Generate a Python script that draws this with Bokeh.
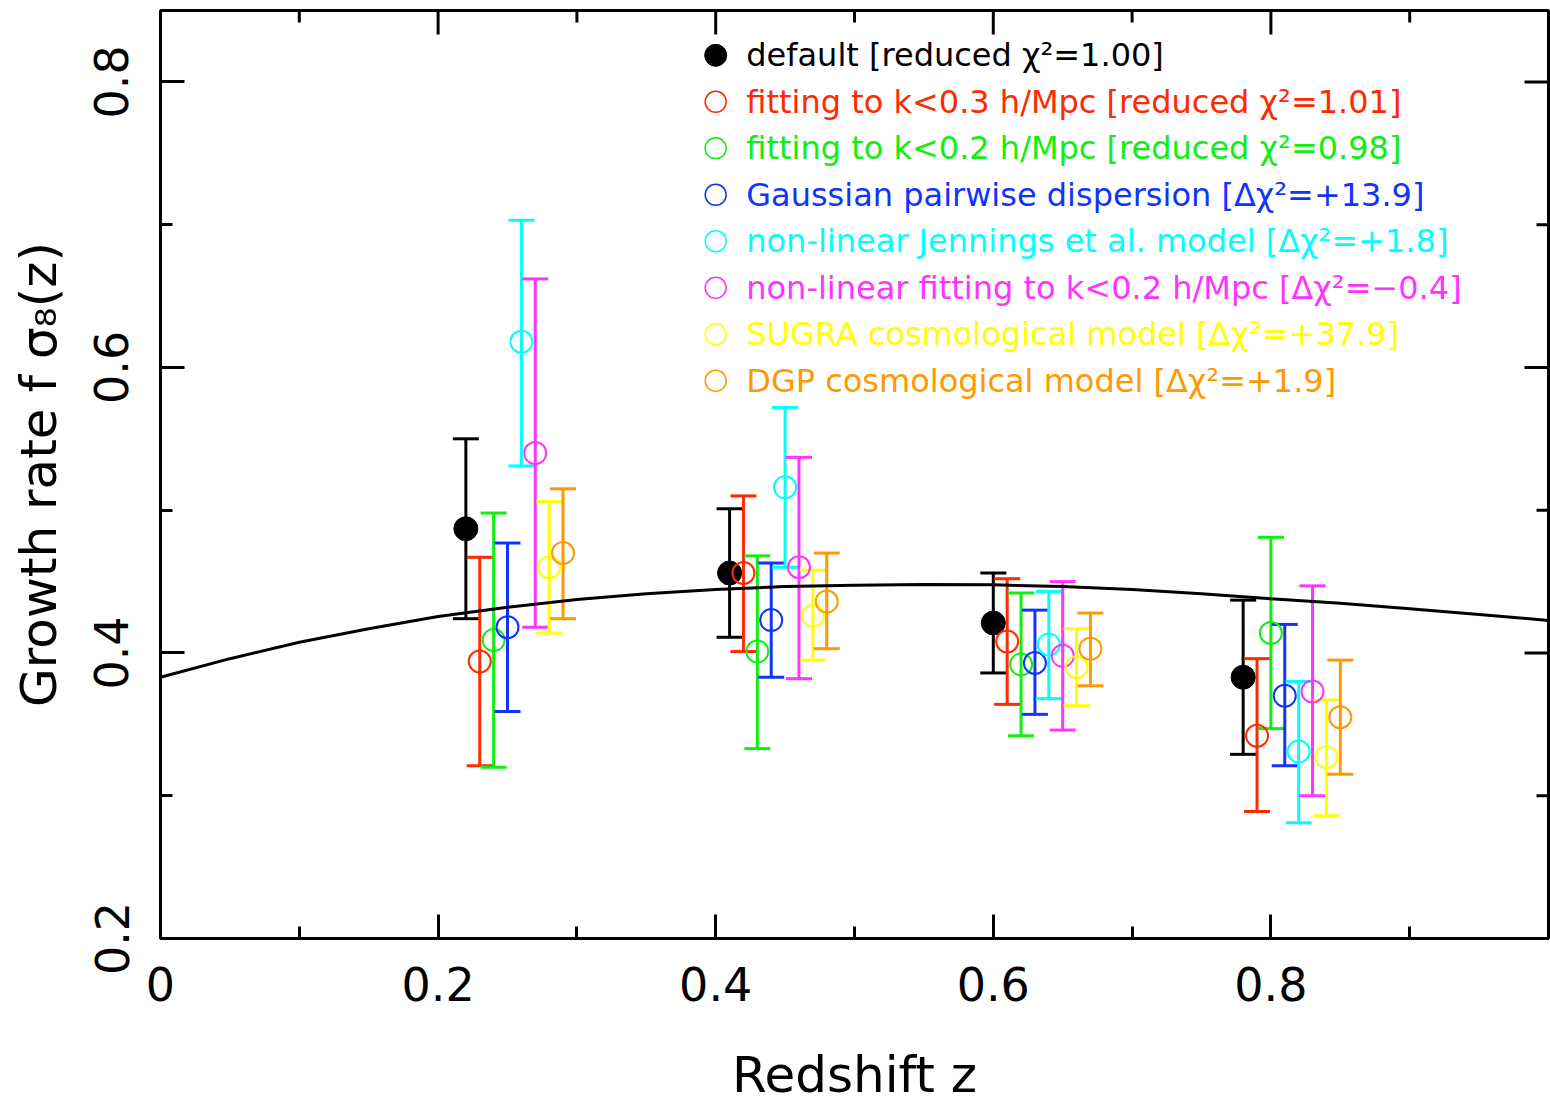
import math
from bokeh.plotting import figure
from bokeh.models import Range1d, FixedTicker, Whisker, TeeHead, ColumnDataSource
from bokeh.core.properties import value
from bokeh.embed import file_html
from bokeh.resources import INLINE

# ---------------- data ----------------
series_names = ["default", "k03", "k02", "gauss", "jennings", "nl_k02", "sugra", "dgp"]
series_colors = ["#000000", "#ff2a00", "#11ee11", "#1133ff", "#00ffff", "#ff33ff", "#ffff00", "#ff9900"]
series_labels = [
    "default [reduced χ²=1.00]",
    "fitting to k<0.3 h/Mpc [reduced χ²=1.01]",
    "fitting to k<0.2 h/Mpc [reduced χ²=0.98]",
    "Gaussian pairwise dispersion [Δχ²=+13.9]",
    "non-linear Jennings et al. model [Δχ²=+1.8]",
    "non-linear fitting to k<0.2 h/Mpc [Δχ²=−0.4]",
    "SUGRA cosmological model [Δχ²=+37.9]",
    "DGP cosmological model [Δχ²=+1.9]",
]

z_default = [0.22, 0.41, 0.60, 0.78]
fs8_default = [0.487, 0.456, 0.421, 0.383]
lo_default = [0.424, 0.411, 0.386, 0.329]
hi_default = [0.550, 0.501, 0.456, 0.437]

z_k03 = [0.23, 0.42, 0.61, 0.79]
fs8_k03 = [0.394, 0.456, 0.408, 0.342]
lo_k03 = [0.321, 0.401, 0.364, 0.289]
hi_k03 = [0.467, 0.510, 0.452, 0.396]

z_k02 = [0.24, 0.43, 0.62, 0.80]
fs8_k02 = [0.409, 0.401, 0.392, 0.414]
lo_k02 = [0.320, 0.333, 0.342, 0.347]
hi_k02 = [0.498, 0.468, 0.442, 0.481]

z_gauss = [0.25, 0.44, 0.63, 0.81]
fs8_gauss = [0.418, 0.423, 0.393, 0.370]
lo_gauss = [0.359, 0.383, 0.357, 0.321]
hi_gauss = [0.477, 0.463, 0.430, 0.420]

z_jennings = [0.26, 0.45, 0.64, 0.82]
fs8_jennings = [0.618, 0.516, 0.406, 0.331]
lo_jennings = [0.531, 0.460, 0.368, 0.281]
hi_jennings = [0.703, 0.572, 0.443, 0.380]

z_nl_k02 = [0.27, 0.46, 0.65, 0.83]
fs8_nl_k02 = [0.540, 0.460, 0.398, 0.373]
lo_nl_k02 = [0.418, 0.382, 0.346, 0.300]
hi_nl_k02 = [0.662, 0.537, 0.450, 0.447]

z_sugra = [0.28, 0.47, 0.66, 0.84]
fs8_sugra = [0.460, 0.426, 0.390, 0.327]
lo_sugra = [0.414, 0.395, 0.363, 0.286]
hi_sugra = [0.506, 0.458, 0.417, 0.367]

z_dgp = [0.29, 0.48, 0.67, 0.85]
fs8_dgp = [0.470, 0.436, 0.403, 0.355]
lo_dgp = [0.424, 0.403, 0.377, 0.315]
hi_dgp = [0.515, 0.470, 0.428, 0.395]

# LCDM model curve
z_model = [0.0, 0.05, 0.1, 0.15, 0.2, 0.25, 0.3, 0.35, 0.4, 0.45, 0.5,
           0.55, 0.6, 0.65, 0.7, 0.75, 0.8, 0.85, 0.9, 0.95, 1.0]
fs8_model = [0.383, 0.396, 0.4075, 0.417, 0.4255, 0.432, 0.4375, 0.4415, 0.4445, 0.4465, 0.4475,
             0.448, 0.4477, 0.4465, 0.4445, 0.4415, 0.438, 0.4348, 0.431, 0.427, 0.4228]

x_ticks = [0.0, 0.2, 0.4, 0.6, 0.8, 1.0]
x_minor = [0.1, 0.3, 0.5, 0.7, 0.9]
y_ticks = [0.2, 0.4, 0.6, 0.8]
y_minor = [0.3, 0.5, 0.7]
x_min, x_max = 0.0, 1.0
y_min, y_max = 0.2, 0.85

data = {
    "default": (z_default, fs8_default, lo_default, hi_default),
    "k03": (z_k03, fs8_k03, lo_k03, hi_k03),
    "k02": (z_k02, fs8_k02, lo_k02, hi_k02),
    "gauss": (z_gauss, fs8_gauss, lo_gauss, hi_gauss),
    "jennings": (z_jennings, fs8_jennings, lo_jennings, hi_jennings),
    "nl_k02": (z_nl_k02, fs8_nl_k02, lo_nl_k02, hi_nl_k02),
    "sugra": (z_sugra, fs8_sugra, lo_sugra, hi_sugra),
    "dgp": (z_dgp, fs8_dgp, lo_dgp, hi_dgp),
}

FONT = "DejaVu Sans"

p = figure(width=1550, height=1107, output_backend="svg", toolbar_location=None,
           x_range=Range1d(x_min, x_max), y_range=Range1d(y_min, y_max),
           min_border_left=160, min_border_right=2, min_border_top=10, min_border_bottom=169,
           x_axis_label="Redshift z", y_axis_label="Growth rate f σ₈(z)")
p.grid.visible = False
p.outline_line_color = "black"
p.outline_line_width = 3
p.background_fill_color = "white"
p.border_fill_color = "white"

def style_axis(ax, ticks, minor):
    ax.ticker = FixedTicker(ticks=ticks, minor_ticks=minor)
    ax.axis_line_width = 3
    ax.axis_line_color = "black"
    ax.major_tick_line_width = 3
    ax.minor_tick_line_width = 3
    ax.major_tick_in = 24
    ax.major_tick_out = 0
    ax.minor_tick_in = 12
    ax.minor_tick_out = 0
    ax.major_label_text_font = FONT
    ax.major_label_text_color = "black"
    ax.axis_label_text_font = FONT
    ax.axis_label_text_color = "black"
    ax.axis_label_text_font_style = "normal"

xa = p.xaxis[0]
style_axis(xa, x_ticks, x_minor)
xa.major_label_overrides = {0.0: "0", 0.2: "0.2", 0.4: "0.4", 0.6: "0.6", 0.8: "0.8", 1.0: ""}
xa.major_label_text_font_size = "46px"
xa.major_label_standoff = 28
xa.axis_label_text_font_size = "50px"
xa.axis_label_standoff = 42

ya = p.yaxis[0]
style_axis(ya, y_ticks, y_minor)
ya.major_label_overrides = {0.2: "0.2", 0.4: "0.4", 0.6: "0.6", 0.8: "0.8"}
ya.major_label_orientation = "vertical"
ya.major_label_text_font_size = "46px"
ya.major_label_standoff = 32
ya.axis_label_text_font_size = "50px"
ya.axis_label_standoff = 24

# mirrored ticks on top and right edges (inward)
p.ray(x=x_ticks, y=[y_max] * len(x_ticks), length=24, angle=-math.pi / 2,
      length_units="screen", line_color="black", line_width=3)
p.ray(x=x_minor, y=[y_max] * len(x_minor), length=12, angle=-math.pi / 2,
      length_units="screen", line_color="black", line_width=3)
p.ray(x=[x_max] * len(y_ticks), y=y_ticks, length=24, angle=math.pi,
      length_units="screen", line_color="black", line_width=3)
p.ray(x=[x_max] * len(y_minor), y=y_minor, length=12, angle=math.pi,
      length_units="screen", line_color="black", line_width=3)

# model curve
p.line(z_model, fs8_model, line_color="black", line_width=3)

# error bars and points
for name, color in zip(series_names, series_colors):
    z, y, lo, hi = data[name]
    src = ColumnDataSource(dict(z=z, y=y, lo=lo, hi=hi))
    w = Whisker(base="z", lower="lo", upper="hi", source=src, line_color=color, line_width=3,
                upper_head=TeeHead(size=26, line_color=color, line_width=3),
                lower_head=TeeHead(size=26, line_color=color, line_width=3))
    p.add_layout(w)
    if name == "default":
        p.scatter("z", "y", source=src, marker="circle", size=24,
                  fill_color="black", line_color="black")
    else:
        p.scatter("z", "y", source=src, marker="circle", size=22,
                  fill_color=None, line_color=color, line_width=2)

# legend (manual, coloured text)
leg_x0 = 0.4
leg_text_dx = 0.022
leg_y0 = 0.8186
leg_dy = 0.03257
for i, (name, color, label) in enumerate(zip(series_names, series_colors, series_labels)):
    yy = leg_y0 - i * leg_dy
    if name == "default":
        p.scatter([leg_x0], [yy], marker="circle", size=22, fill_color="black", line_color="black")
    else:
        p.scatter([leg_x0], [yy], marker="circle", size=21, fill_color=None,
                  line_color=color, line_width=1.5)
    p.text([leg_x0 + leg_text_dx], [yy], text=[label], text_color=color,
           text_font=value(FONT), text_font_size="32px", text_baseline="middle",
           text_align="left")

open("out.html", "w").write(file_html(p, INLINE))
